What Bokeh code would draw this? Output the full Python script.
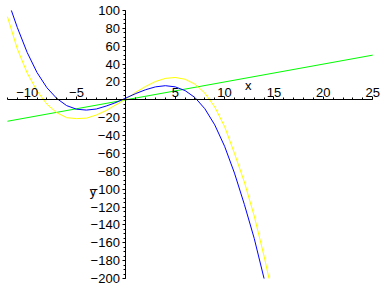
from bokeh.plotting import figure
from bokeh.models import LinearAxis, FixedTicker, Range1d, Label
from bokeh.embed import file_html
from bokeh.resources import INLINE

# --- data ---
green_x = [-12, 25]
green_y = [-24, 50]

blue_x = [-11.6, -11, -10, -9, -8, -7, -6, -5, -4, -3, -2, -1, 0, 1, 2, 3, 4, 5, 6, 7, 8, 9, 10, 11, 12, 13, 14]
blue_y = [100, 81, 53, 30.5, 13.5, 1.5, -6.5, -10.5, -11.5, -10.3, -7, -3, 2, 7, 11.3, 14.5, 15.8, 14.5, 10.3, 2.5, -10, -28, -52, -82, -117, -155, -200]

yellow_x = [-12, -11, -10, -9, -8, -7, -6, -5, -4, -3, -2, -1, 0, 1, 2, 3, 4, 5, 6, 7, 8, 9, 10, 11, 12, 13, 14, 14.5]
yellow_y = [93, 57, 30, 10, -5, -14.5, -20, -21, -20.5, -17, -12, -5.5, 1, 8.5, 15, 20.5, 24, 25, 23, 17.5, 7.5, -8, -30, -60, -92, -130, -175, -200]

x_ticks = [-10, -5, 5, 10, 15, 20, 25]
x_minor = list(range(-12, 26))
y_ticks = [-200, -180, -160, -140, -120, -100, -80, -60, -40, -20, 20, 40, 60, 80, 100]
y_minor = list(range(-200, 101, 5))

FONT = "Liberation Sans"

p = figure(width=388, height=288, output_backend="svg", toolbar_location=None,
           x_range=Range1d(-12.6, 26.4), y_range=Range1d(-210, 110),
           x_axis_location=None, y_axis_location=None,
           frame_width=385, frame_height=286,
           min_border_left=1, min_border_right=2, min_border_top=1, min_border_bottom=1)
p.outline_line_color = None
p.xgrid.visible = False
p.ygrid.visible = False
p.background_fill_color = "white"
p.border_fill_color = "white"

xaxis = LinearAxis(fixed_location=0, bounds=(-12, 25),
                   ticker=FixedTicker(ticks=x_ticks, minor_ticks=x_minor))
yaxis = LinearAxis(fixed_location=0, bounds=(-200, 100),
                   ticker=FixedTicker(ticks=y_ticks, minor_ticks=y_minor))
for ax in (xaxis, yaxis):
    ax.axis_line_color = "black"
    ax.major_tick_line_color = "black"
    ax.minor_tick_line_color = "black"
    ax.major_tick_in = 0
    ax.major_tick_out = 3
    ax.minor_tick_in = 0
    ax.minor_tick_out = 2
    ax.major_label_text_font = FONT
    ax.major_label_text_font_size = "13px"
    ax.major_label_text_color = "black"
xaxis.major_label_standoff = 0
yaxis.major_label_standoff = 3
p.add_layout(xaxis, "above")
p.add_layout(yaxis, "left")

p.line(green_x, green_y, line_color="#00FF00", line_width=1)
p.line(yellow_x, yellow_y, line_color="#FFFF00", line_width=1)
p.line(blue_x, blue_y, line_color="#0000FF", line_width=1)

p.add_layout(Label(x=12.4, y=15.5, text="x", text_font=FONT, text_font_size="13px",
                   text_align="center", text_baseline="middle", text_color="black"))
p.add_layout(Label(x=-3.0, y=-103, text="y", text_font=FONT, text_font_size="13px",
                   text_align="right", text_baseline="middle", text_color="black"))

open("out.html", "w").write(file_html(p, INLINE))
